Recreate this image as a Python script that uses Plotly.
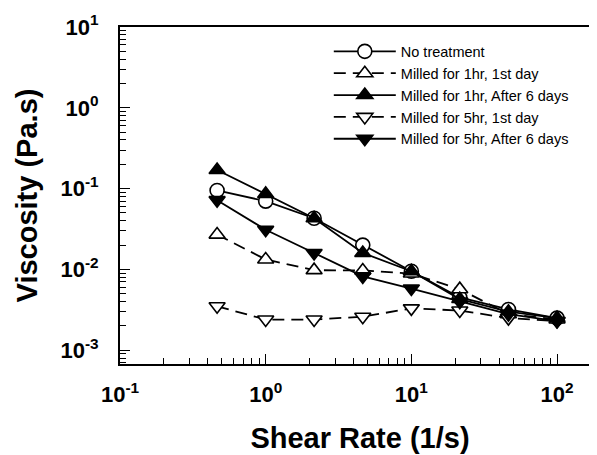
import plotly.graph_objects as go

shear_rate = [0.464, 1.0, 2.15, 4.64, 10.0, 21.5, 46.4, 100.0]

series_names = [
    "No treatment",
    "Milled for 1hr, 1st day",
    "Milled for 1hr, After 6 days",
    "Milled for 5hr, 1st day",
    "Milled for 5hr, After 6 days",
]
no_treatment = [0.095, 0.070, 0.043, 0.020, 0.0095, 0.0045, 0.0032, 0.0025]
milled_1hr_day1 = [0.027, 0.0133, 0.0098, 0.0097, 0.0089, 0.0057, 0.0028, 0.0024]
milled_1hr_day6 = [0.17, 0.086, 0.043, 0.016, 0.0095, 0.0043, 0.0030, 0.0025]
milled_5hr_day1 = [0.0035, 0.0024, 0.0024, 0.0026, 0.0033, 0.0031, 0.0025, 0.0023]
milled_5hr_day6 = [0.072, 0.031, 0.016, 0.0082, 0.0058, 0.0040, 0.0028, 0.0023]

x_tickvals = [0.1, 1, 10, 100]
x_ticktext = ["10<sup>-1</sup>", "10<sup>0</sup>", "10<sup>1</sup>", "10<sup>2</sup>"]
y_tickvals = [0.001, 0.01, 0.1, 1, 10]
y_ticktext = ["10<sup>-3</sup>", "10<sup>-2</sup>", "10<sup>-1</sup>", "10<sup>0</sup>", "10<sup>1</sup>"]

all_values = [no_treatment, milled_1hr_day1, milled_1hr_day6, milled_5hr_day1, milled_5hr_day6]
symbols = ["circle", "triangle-up", "triangle-up", "triangle-down", "triangle-down"]
fills = ["white", "white", "black", "white", "black"]
dashes = ["solid", "dash", "solid", "dash", "solid"]


def minor_vals(decades):
    out = []
    for d in decades:
        for m in range(2, 10):
            out.append(m * 10.0 ** d)
    return out


fig = go.Figure()
for name, vals, sym, fill, dash in zip(series_names, all_values, symbols, fills, dashes):
    fig.add_trace(go.Scatter(
        x=shear_rate, y=vals, name=name, mode="lines+markers",
        line=dict(color="black", width=1.8, dash="12px,7px" if dash == "dash" else "solid"),
        marker=dict(symbol=sym, size=14, color=fill, line=dict(color="black", width=1.6)),
    ))

font_family = "Liberation Sans, Arial"

axis_common = dict(
    type="log", showgrid=False, zeroline=False,
    showline=True, linecolor="black", linewidth=2, mirror=True,
    ticks="inside", ticklen=10, tickwidth=1, tickcolor="black",
    tickfont=dict(family=font_family, size=22, color="black", weight="bold"),
)

fig.update_xaxes(
    **axis_common, range=[-1, 2.295],
    tickvals=x_tickvals, ticktext=x_ticktext, ticklabelstandoff=10,
    minor=dict(tickmode="array", tickvals=minor_vals([-1, 0, 1, 2]), ticks="inside",
               ticklen=6, tickwidth=1, tickcolor="black", showgrid=False),
    title=dict(text="<b>Shear Rate (1/s)</b>", font=dict(family=font_family, size=29, color="black"), standoff=21),
)
fig.update_yaxes(
    **axis_common, range=[-3.17, 1],
    tickvals=y_tickvals, ticktext=y_ticktext, ticklabelstandoff=15,
    minor=dict(tickmode="array", tickvals=minor_vals([-4, -3, -2, -1, 0]), ticks="inside",
               ticklen=6, tickwidth=1, tickcolor="black", showgrid=False),
    title=dict(text="<b>Viscosity (Pa.s)</b>", font=dict(family=font_family, size=29, color="black"), standoff=14),
)

fig.update_layout(
    width=597, height=455,
    margin=dict(l=112, r=3, t=19, b=99),
    paper_bgcolor="white", plot_bgcolor="white",
    showlegend=True,
    legend=dict(x=0.435, y=0.975, xanchor="left", yanchor="top",
                bgcolor="rgba(0,0,0,0)", borderwidth=0,
                font=dict(family=font_family, size=14.5, color="black"),
                tracegroupgap=0, itemwidth=62),
)

fig.write_html("out.html")
